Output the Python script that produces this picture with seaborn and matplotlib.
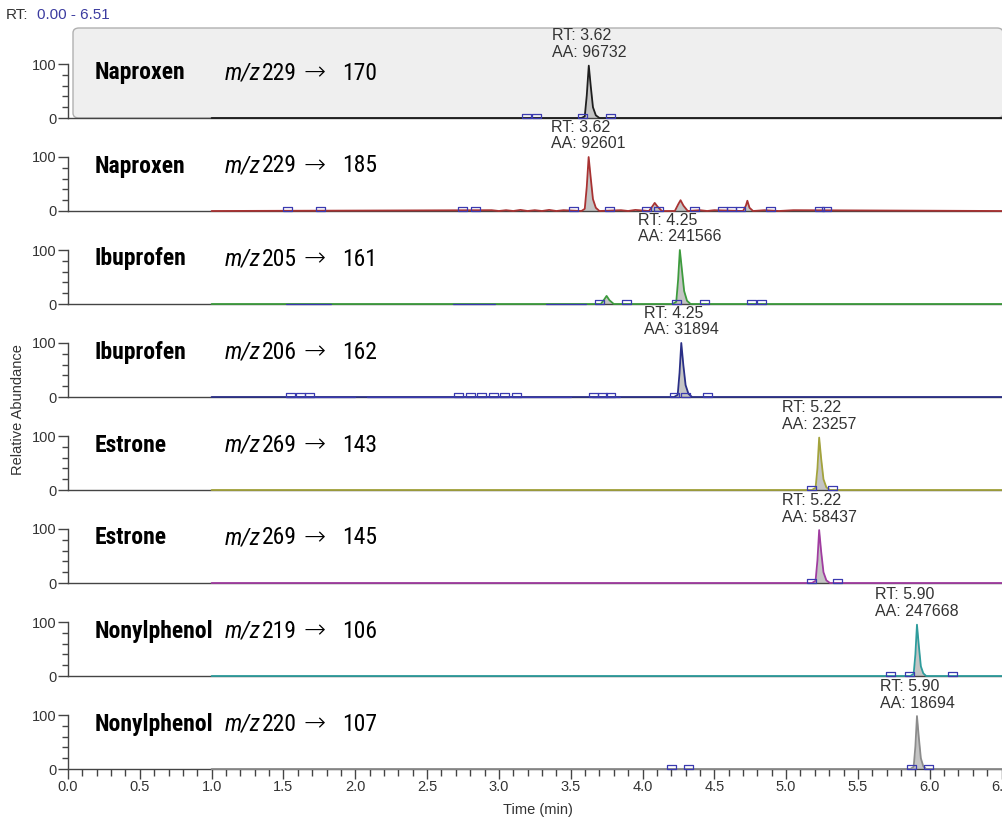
import numpy as np
import pandas as pd
import matplotlib
matplotlib.use("Agg")
import matplotlib.pyplot as plt
import seaborn as sns
from matplotlib.patches import FancyBboxPatch
from matplotlib.ticker import MultipleLocator, FixedLocator
from matplotlib import font_manager

# panel data (one row per SRM trace)
compounds = ["Naproxen", "Naproxen", "Ibuprofen", "Ibuprofen",
             "Estrone", "Estrone", "Nonylphenol", "Nonylphenol"]
precursor = [229, 229, 205, 206, 269, 269, 219, 220]
product = [170, 185, 161, 162, 143, 145, 106, 107]
rt_labels = ["3.62", "3.62", "4.25", "4.25", "5.22", "5.22", "5.90", "5.90"]
areas = [96732, 92601, 241566, 31894, 23257, 58437, 247668, 18694]
trace_colors = ["#1e1e1e", "#a83232", "#3d9b3d", "#2a2f86",
                "#a3a33c", "#a03ca0", "#2e9c9c", "#8c8c8c"]

# main peak outlines (time in min, relative abundance)
peak_t = [
    [3.575, 3.598, 3.612, 3.626, 3.640, 3.655, 3.675, 3.700],
    [3.575, 3.598, 3.612, 3.625, 3.640, 3.655, 3.675, 3.700],
    [4.210, 4.235, 4.248, 4.260, 4.275, 4.290, 4.310, 4.335],
    [4.220, 4.245, 4.258, 4.270, 4.284, 4.300, 4.320, 4.345],
    [5.180, 5.205, 5.218, 5.230, 5.244, 5.260, 5.280, 5.305],
    [5.180, 5.205, 5.218, 5.230, 5.244, 5.260, 5.280, 5.305],
    [5.865, 5.888, 5.900, 5.911, 5.924, 5.938, 5.955, 5.975],
    [5.865, 5.888, 5.900, 5.911, 5.924, 5.938, 5.955, 5.975],
]
peak_y = [
    [0, 3, 42, 97, 58, 20, 5, 0],
    [0, 4, 45, 100, 60, 22, 6, 0],
    [0, 4, 45, 100, 62, 24, 6, 0],
    [0, 4, 45, 100, 60, 22, 6, 0],
    [0, 4, 40, 97, 58, 20, 5, 0],
    [0, 4, 42, 98, 58, 20, 5, 0],
    [0, 4, 40, 95, 56, 18, 5, 0],
    [0, 4, 42, 98, 58, 20, 5, 0],
]

# small side peaks (panel index -> list of (t, y))
minor_peaks = {
    1: [([4.045, 4.070, 4.085, 4.105, 4.135], [0, 9, 15, 8, 0]),
        ([4.225, 4.250, 4.265, 4.285, 4.315], [0, 13, 20, 10, 0]),
        ([4.700, 4.720, 4.730, 4.745, 4.770], [0, 10, 19, 6, 0])],
    2: [([3.710, 3.735, 3.750, 3.770, 3.800], [0, 9, 15, 7, 0])],
}

# low baseline noise in the Naproxen 185 trace
noise_t = [2.95, 3.00, 3.05, 3.10, 3.15, 3.20, 3.25, 3.30, 3.35, 3.40, 3.45,
           3.85, 3.90, 3.95, 4.40, 4.45, 4.50, 4.85, 4.95, 5.05]
noise_y = [1.5, 0, 1.5, 0, 2, 0, 1.5, 0, 2, 0, 1.5,
           1.5, 0, 2, 1.5, 0, 1.5, 1.5, 0, 1.5]

# integration baselines (blue segments) and boundary markers
integ_segments = {
    2: [(1.52, 1.83), (2.68, 2.97), (3.33, 3.61)],
    3: [(1.52, 2.00), (2.08, 3.50), (3.65, 3.84)],
}
marker_t = [
    [3.19, 3.26, 3.58, 3.78],
    [1.53, 1.76, 2.75, 2.84, 3.52, 3.77, 4.03, 4.11, 4.36, 4.56, 4.62, 4.68, 4.89, 5.23, 5.28],
    [3.70, 3.89, 4.24, 4.43, 4.76, 4.83],
    [1.55, 1.62, 1.68, 2.72, 2.80, 2.88, 2.96, 3.04, 3.12, 3.66, 3.72, 3.78, 4.22, 4.30, 4.45],
    [5.18, 5.32],
    [5.18, 5.36],
    [5.73, 5.86, 6.16],
    [4.20, 4.32, 5.87, 5.99],
]

trace_start = 1.0
rt_min, rt_max = 0.0, 6.51
x_ticks = [0.0, 0.5, 1.0, 1.5, 2.0, 2.5, 3.0, 3.5, 4.0, 4.5, 5.0, 5.5, 6.0, 6.5]

sns.set_style("ticks")
plt.rcParams["font.family"] = ["Liberation Sans", "DejaVu Sans"]

# pick a condensed face for the compound labels if one is installed
installed = {f.name for f in font_manager.fontManager.ttflist}
narrow = [f for f in ["Roboto Condensed", "Liberation Sans Narrow", "DejaVu Sans Condensed"]
          if f in installed] + ["Liberation Sans", "DejaVu Sans"]
label_size = 17 if len(narrow) > 2 else 14

W, H = 1003, 821
fig = plt.figure(figsize=(W / 100, H / 100), dpi=100)

left_px = 68
first_base = 118
step = 93
unit_px = 54  # pixels for 0..100
box_color = "#3a3ab0"
axis_color = "#444444"
text_color = "#333333"

rect_marker = [(-1, 0), (1, 0), (1, 0.9), (-1, 0.9), (-1, 0)]

axes = []
for i in range(8):
    base = first_base + step * i
    ax = fig.add_axes([left_px / W, (H - base) / H, (W - left_px) / W, step / H])
    ax.patch.set_alpha(0)
    ax.set_xlim(rt_min, rt_max)
    ax.set_ylim(0, step / unit_px * 100)
    c = trace_colors[i]

    if i == 0:
        # grey highlight box behind the first trace
        box = FancyBboxPatch((73 / W, (H - first_base) / H), (W - 73) / W, 90 / H,
                             boxstyle="round,pad=0,rounding_size=0.006",
                             transform=fig.transFigure, facecolor="#efefef",
                             edgecolor="#b0b0b0", lw=1, zorder=0.5, clip_on=False)
        ax.add_patch(box)

    # full trace: flat baseline from 1.0 min plus the peaks
    pts = [(trace_start, 0.0)]
    all_peaks = [(peak_t[i], peak_y[i])] + minor_peaks.get(i, [])
    if i == 1:
        pts += list(zip(noise_t, noise_y))
    for pt, py in all_peaks:
        pts += list(zip(pt, py))
    pts.append((rt_max, 0.0))
    tr = pd.DataFrame(pts, columns=["t", "y"]).sort_values("t")
    for pt, py in all_peaks:
        ax.fill_between(pt, py, 0, color="#c4c4c4", lw=0, zorder=2, clip_on=False)
    sns.lineplot(data=tr, x="t", y="y", ax=ax, color=c, lw=1.3,
                 estimator=None, sort=False, zorder=3, clip_on=False)

    for a, b in integ_segments.get(i, []):
        ax.plot([a, b], [0.8, 0.8], color=box_color, lw=0.9, zorder=3, clip_on=False)

    mk = pd.DataFrame({"t": marker_t[i], "y": 0.0})
    sns.scatterplot(data=mk, x="t", y="y", ax=ax, marker=rect_marker, s=42,
                    facecolor="none", edgecolor=box_color, linewidth=0.9,
                    zorder=4, clip_on=False)

    # peak annotation
    ax.annotate(f"RT: {rt_labels[i]}\nAA: {areas[i]}",
                xy=(peak_t[i][3], peak_y[i][3]), xytext=(0, 4),
                textcoords="offset points", ha="center", va="bottom",
                multialignment="left", fontsize=11.5, color=text_color,
                linespacing=1.15, zorder=5)

    # axes styling
    sns.despine(ax=ax, top=True, right=True)
    ax.spines["left"].set_bounds(0, 100)
    ax.spines["left"].set_color(axis_color)
    ax.spines["bottom"].set_color(axis_color)
    ax.spines["left"].set_linewidth(1.0)
    ax.spines["bottom"].set_linewidth(1.0)
    ax.set_yticks([0, 100])
    ax.set_yticklabels(["0", "100"])
    ax.yaxis.set_minor_locator(FixedLocator([20, 40, 60, 80]))
    ax.tick_params(axis="y", which="major", length=7, width=1, pad=1,
                   colors=axis_color, labelsize=10.5, labelcolor=text_color)
    ax.tick_params(axis="y", which="minor", length=4, width=1, colors=axis_color)
    ax.set_xlabel("")
    ax.set_ylabel("")
    if i < 7:
        ax.set_xticks([])
        ax.tick_params(axis="x", which="both", length=0, labelbottom=False)
    else:
        ax.set_xticks(x_ticks)
        ax.set_xticklabels([f"{v:.1f}" for v in x_ticks])
        ax.xaxis.set_minor_locator(MultipleLocator(0.1))
        ax.tick_params(axis="x", which="major", length=7, width=1, pad=1,
                       colors=axis_color, labelsize=10.5, labelcolor=text_color)
        ax.tick_params(axis="x", which="minor", length=5, width=1, colors=axis_color)

    # compound label
    ty = (H - (base - 45)) / H
    fig.text(95 / W, ty, compounds[i], fontsize=label_size, fontweight="bold",
             family=narrow, va="center", ha="left", color="black")
    fig.text(225 / W, ty, "m/z", fontsize=label_size, style="italic",
             family=narrow, va="center", ha="left", color="black")
    fig.text(262 / W, ty, f"{precursor[i]}", fontsize=label_size,
             family=narrow, va="center", ha="left", color="black")
    fig.text(304 / W, ty, "\u2192", fontsize=19, family=["DejaVu Sans"],
             va="center", ha="left", color="black", fontweight="light")
    fig.text(342 / W, ty, f"{product[i]}", fontsize=label_size,
             family=narrow, va="center", ha="left", color="black")
    axes.append(ax)

fig.text(6 / W, (H - 15) / H, "RT:", fontsize=11, color=text_color, va="center")
fig.text(37 / W, (H - 15) / H, "0.00 - 6.51", fontsize=11, color="#3c3ca0", va="center")
fig.text(18 / W, (H - 410) / H, "Relative Abundance", rotation=90, fontsize=10.5,
         color=text_color, va="center", ha="center")
fig.text(538 / W, (H - 810) / H, "Time (min)", fontsize=10.5, color=text_color,
         va="center", ha="center")

fig.savefig("out.png", dpi=100)
